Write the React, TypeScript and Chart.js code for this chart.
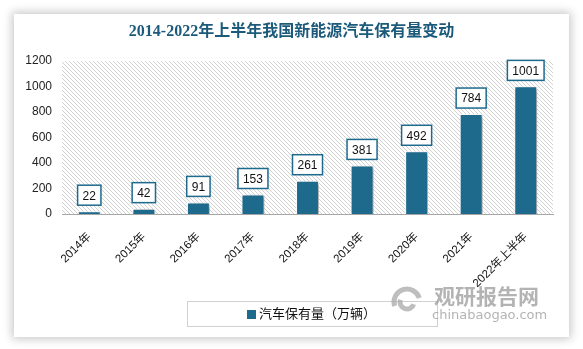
import React, { useEffect, useRef } from "react";
import { Chart, registerables } from "chart.js";

Chart.register(...registerables);

const chartTitle = "2014-2022年上半年我国新能源汽车保有量变动";
const categories = ["2014年", "2015年", "2016年", "2017年", "2018年", "2019年", "2020年", "2021年", "2022年上半年"];
const values = [22, 42, 91, 153, 261, 381, 492, 784, 1001];
const seriesName = "汽车保有量（万辆）";
const yMax = 1200;
const yStep = 200;
const watermarkCn = "观研报告网";
const watermarkEn = "chinabaogao.com";

const BAR = "#1d6a8d";
const SANS = "'Liberation Sans', 'Noto Sans CJK SC', sans-serif";

export default function App() {
  const ref = useRef<HTMLCanvasElement | null>(null);

  useEffect(() => {
    const canvas = ref.current!;
    const hatch = document.createElement("canvas");
    hatch.width = 4;
    hatch.height = 4;
    const hctx = hatch.getContext("2d")!;
    hctx.fillStyle = "#ffffff";
    hctx.fillRect(0, 0, 4, 4);
    hctx.fillStyle = "#d2d2d2";
    for (let i = 0; i < 4; i++) hctx.fillRect(i, i, 1, 1);

    const bgPlugin = {
      id: "bgHatch",
      beforeDraw(chart: any) {
        const { ctx, chartArea: a } = chart;
        const pat = ctx.createPattern(hatch, "repeat");
        ctx.save();
        ctx.fillStyle = pat;
        ctx.fillRect(a.left, a.top, a.right - a.left, a.bottom - a.top);
        ctx.restore();
      },
    };

    const shadowPlugin = {
      id: "barShadow",
      beforeDatasetsDraw(chart: any) {
        const ctx = chart.ctx;
        ctx.save();
        ctx.shadowColor = "rgba(0,0,0,0.35)";
        ctx.shadowBlur = 4;
        ctx.shadowOffsetX = 3;
        ctx.shadowOffsetY = 2;
      },
      afterDatasetsDraw(chart: any) {
        chart.ctx.restore();
      },
    };

    const labelPlugin = {
      id: "valueBoxes",
      afterDatasetsDraw(chart: any) {
        const ctx = chart.ctx;
        const meta = chart.getDatasetMeta(0);
        ctx.save();
        ctx.font = `12px ${SANS}`;
        meta.data.forEach((el: any, i: number) => {
          const txt = String(values[i]);
          const w = ctx.measureText(txt).width;
          const bw = w + 10;
          const bh = 20;
          const bx = el.x - bw / 2;
          const by = el.y - 6 - bh;
          ctx.fillStyle = "#ffffff";
          ctx.fillRect(bx, by, bw, bh);
          ctx.strokeStyle = BAR;
          ctx.lineWidth = 1.5;
          ctx.strokeRect(bx, by, bw, bh);
          ctx.fillStyle = "#111111";
          ctx.textAlign = "center";
          ctx.textBaseline = "middle";
          ctx.fillText(txt, el.x, by + bh / 2 + 1);
        });
        ctx.restore();
      },
    };

    const decoPlugin = {
      id: "deco",
      afterDraw(chart: any) {
        const ctx = chart.ctx;
        const W = chart.width;
        ctx.save();
        // title
        ctx.font = `bold 16px 'Liberation Serif', 'Noto Sans CJK SC', serif`;
        ctx.fillStyle = "#1b5a7a";
        ctx.textAlign = "center";
        ctx.textBaseline = "middle";
        ctx.fillText(chartTitle, W / 2, 32);

        // legend
        const a = chart.chartArea;
        const cx = (a.left + a.right) / 2 + 4;
        const lw = 250;
        const lh = 25;
        const ly = 301;
        ctx.strokeStyle = "#d0d0d0";
        ctx.lineWidth = 1;
        ctx.strokeRect(Math.round(cx - lw / 2) + 0.5, ly + 0.5, lw, lh);
        ctx.font = `13px ${SANS}`;
        const tw = ctx.measureText(seriesName).width;
        const total = 9 + 3 + tw;
        const sx = cx - total / 2;
        ctx.fillStyle = BAR;
        ctx.fillRect(sx, ly + 9, 9, 9);
        ctx.fillStyle = "#111111";
        ctx.textAlign = "left";
        ctx.fillText(seriesName, sx + 12, ly + lh / 2 + 1);

        // watermark
        ctx.globalAlpha = 0.75;
        ctx.strokeStyle = "#a8a8a8";
        ctx.lineWidth = 5;
        ctx.beginPath();
        ctx.arc(407, 302, 13, Math.PI * 0.9, Math.PI * 1.9);
        ctx.stroke();
        ctx.beginPath();
        ctx.arc(407, 302, 7, Math.PI * 0.1, Math.PI * 1.1);
        ctx.stroke();
        ctx.fillStyle = "#9a9a9a";
        ctx.font = `bold 21px 'Noto Sans CJK SC', sans-serif`;
        ctx.textAlign = "left";
        ctx.fillText(watermarkCn, 434, 296);
        ctx.font = `13px 'DejaVu Sans', sans-serif`;
        ctx.fillText(watermarkEn, 432, 316);
        ctx.restore();
      },
    };

    const chart = new Chart(canvas, {
      type: "bar",
      data: {
        labels: categories,
        datasets: [
          {
            label: seriesName,
            data: values,
            backgroundColor: BAR,
            borderColor: "#ffffff",
            borderWidth: 1,
            barPercentage: 0.42,
            categoryPercentage: 1,
          },
        ],
      },
      options: {
        responsive: false,
        animation: false,
        devicePixelRatio: 1,
        layout: { padding: { left: 14, right: 30, top: 61, bottom: 0 } },
        plugins: {
          legend: { display: false },
          title: { display: false },
          tooltip: { enabled: false },
        },
        scales: {
          x: {
            grid: { display: false, drawTicks: false },
            border: { display: true, color: "#a6a6a6", width: 1 },
            ticks: {
              minRotation: 45,
              maxRotation: 45,
              autoSkip: false,
              padding: 16,
              color: "#111111",
              font: { family: SANS, size: 11.5 },
            },
            afterFit(scale: any) {
              scale.height = 135;
            },
          },
          y: {
            min: 0,
            max: yMax,
            grid: { display: false, drawTicks: false },
            border: { display: false },
            ticks: {
              stepSize: yStep,
              padding: 10,
              color: "#222222",
              font: { family: SANS, size: 12 },
              callback: (v: any) => String(v),
            },
            afterFit(scale: any) {
              scale.width = 48;
            },
          },
        },
      },
      plugins: [bgPlugin, shadowPlugin, labelPlugin, decoPlugin],
    });
    return () => chart.destroy();
  }, []);

  return (
    <div style={{ position: "fixed", left: 0, top: 0, width: 583, height: 349, background: "#ffffff", overflow: "hidden" }}>
      <div
        style={{
          position: "absolute",
          left: 14,
          top: 14,
          width: 555,
          height: 323,
          background: "#ffffff",
          boxShadow: "0 0 9px 2px rgba(0,0,0,0.22)",
        }}
      />
      <canvas ref={ref} width={583} height={349} style={{ position: "absolute", left: 0, top: 0, width: 583, height: 349 }} />
    </div>
  );
}
